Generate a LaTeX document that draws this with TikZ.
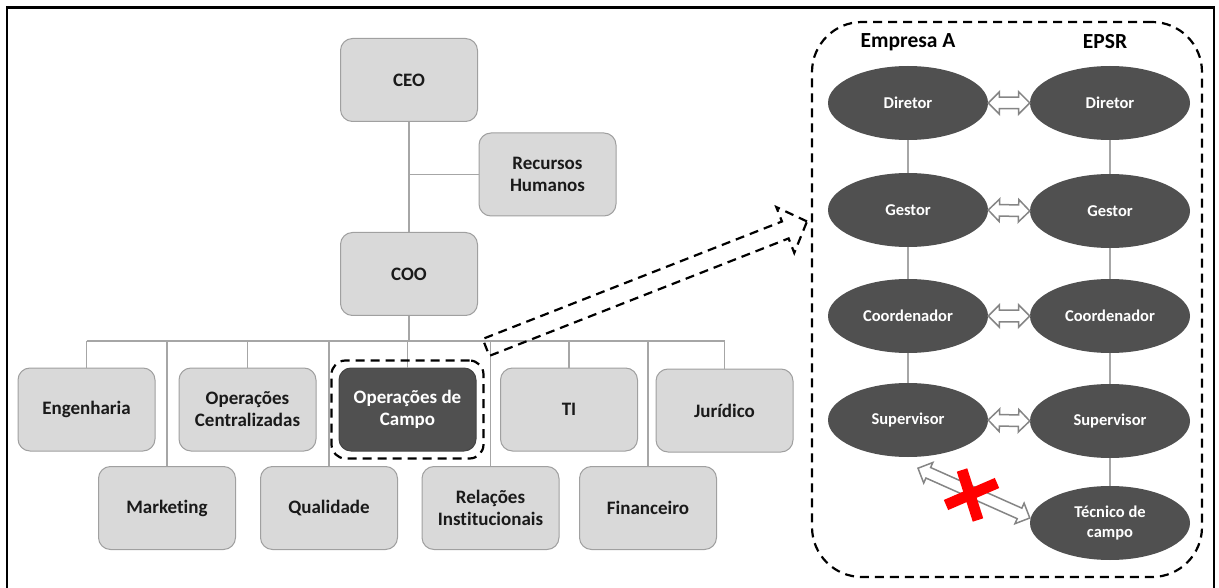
\documentclass[tikz,border=0pt]{standalone}
\usepackage{fontspec}
\setmainfont{Carlito}[Ligatures=NoCommon]
\usetikzlibrary{shapes.geometric,shapes.arrows,calc,fit}
\definecolor{boxfill}{HTML}{D9D9D9}
\definecolor{boxline}{HTML}{A0A0A0}
\definecolor{darkfill}{HTML}{505050}
\definecolor{wirecol}{HTML}{A6A6A6}
\definecolor{arrowline}{HTML}{858585}
\definecolor{textcol}{HTML}{1A1A1A}
\definecolor{crossred}{HTML}{FF0000}

\begin{document}
\begin{tikzpicture}[x=1pt,y=-1pt,
  orgbox/.style={draw=boxline, line width=1pt, fill=boxfill, rounded corners=12pt,
    minimum width=137pt, minimum height=83pt, align=center, inner sep=2pt,
    text=textcol, font=\fontsize{19}{22}\selectfont\bfseries},
  darkbox/.style={orgbox, fill=darkfill, draw=darkfill!85!black, text=white},
  role/.style={ellipse, fill=darkfill, minimum width=160pt, minimum height=74pt,
    inner sep=0pt, align=center, text=white,
    font=\fontsize{16.5}{20}\selectfont\bfseries},
  header/.style={text=black, font=\fontsize{21.5}{24}\selectfont\bfseries},
  wire/.style={draw=wirecol, line width=1.2pt},
  bolddash/.style={draw=black, line width=2.2pt, dash pattern=on 9pt off 6pt},
  hollow/.style={double arrow, draw=arrowline, fill=white, line width=1.5pt,
    inner xsep=0pt, inner ysep=5pt, double arrow head extend=5.5pt,
    double arrow tip angle=90},
  bigarrow/.style={single arrow, bolddash, inner xsep=0pt, inner ysep=8pt,
    single arrow head extend=15.5pt, single arrow tip angle=93}
]
\useasboundingbox (0,0) rectangle (1219,588);

% outer frame
\draw[line width=2.5pt] (7,600) -- (7,7.5) -- (1214,7.5) -- (1214,600);

% ---------- organisation chart ----------
\node[orgbox] (ceo) at (409,80) {CEO};
\node[orgbox] (rh)  at (547.5,174.5) {Recursos\\Humanos};
\node[orgbox] (coo) at (409,274) {COO};

\node[orgbox]  (eng) at (86.5,409.5)  {Engenharia};
\node[orgbox]  (opc) at (247.5,409.5) {Operações\\Centralizadas};
\node[darkbox] (opf) at (407.5,409.5) {Operações de\\Campo};
\node[orgbox]  (ti)  at (569,409.5)   {TI};
\node[orgbox]  (jur) at (724.5,410.5) {Jurídico};

\node[orgbox] (mkt)  at (167,508)   {Marketing};
\node[orgbox] (qual) at (329,508)   {Qualidade};
\node[orgbox] (rel)  at (490.5,508) {Relações\\Institucionais};
\node[orgbox] (fin)  at (648,508)   {Financeiro};

\coordinate (bus) at (409,341);

% connectors of the chart
\draw[wire] (ceo.south) -- (coo.north);
\draw[wire] (rh.west) -- (rh.west -| ceo.south);
\draw[wire] (coo.south) -- (coo.south |- bus);
\draw[wire] (eng.north |- bus) -- (jur.north |- bus);
\foreach \c in {eng,opc,opf,ti,jur,mkt,qual,rel,fin}
  \draw[wire] (\c.north |- bus) -- (\c.north);

% highlight around the field operations box
\node[fit=(opf), bolddash, rounded corners=14pt, inner sep=7pt] (opfzone) {};

% ---------- detail panel ----------
\node[bolddash, rounded corners=50pt, minimum width=390pt, minimum height=555pt]
  (panel) at (1007,299.5) {};

\node[header] (hA) at (908,42)  {Empresa A};
\node[header] (hB) at (1105,42) {EPSR};

\node[role] (a1) at (908,103) {Diretor};
\node[role] (a2) at (908,210) {Gestor};
\node[role] (a3) at (908,316) {Coordenador};
\node[role] (a4) at (908,420) {Supervisor};

\node[role] (b1) at (1110,103) {Diretor};
\node[role] (b2) at (1110,211) {Gestor};
\node[role] (b3) at (1110,316) {Coordenador};
\node[role] (b4) at (1110,421) {Supervisor};
\node[role] (b5) at (1110,523) {Técnico de\\campo};

\draw[wire] (a1.south) -- (a2.north);
\draw[wire] (a2.south) -- (a3.north);
\draw[wire] (a3.south) -- (a4.north);
\draw[wire] (b1.south) -- (b2.north);
\draw[wire] (b2.south) -- (b3.north);
\draw[wire] (b3.south) -- (b4.north);
\draw[wire] (b4.south) -- (b5.north);

% hollow two-way arrows between the two companies
\foreach \l/\r in {a1/b1,a2/b2,a3/b3,a4/b4}
  \path let \p1=($(\r.west)-(\l.east)$), \n1={veclen(\x1,\y1)},
            \n2={atan2(\y1,\x1)} in
    node[hollow, minimum height=\n1, rotate=\n2] at ($(\l.east)!0.5!(\r.west)$) {};

% blocked link between supervisor and field technician
\coordinate (s1) at ($(a4.south)+(10,11)$);
\coordinate (s2) at ($(b5.west)+(0,-5)$);
\path let \p1=($(s2)-(s1)$), \n1={veclen(\x1,\y1)}, \n2={atan2(\y1,\x1)} in
  node[hollow, minimum height=\n1, rotate=\n2] (blocked) at ($(s1)!0.5!(s2)$) {};

\coordinate (nox) at (971,494);
\draw[crossred, line width=11pt] ($(nox)+(-25,11)$) -- ($(nox)+(26,-11)$);
\draw[crossred, line width=11pt] ($(nox)+(-9,-24)$) -- ($(nox)+(7,26)$);

% dashed block arrow from the highlighted box to the panel
\coordinate (tail) at (482,349);
\coordinate (tip)  at (803,223);
\path let \p1=($(tip)-(tail)$), \n1={veclen(\x1,\y1)}, \n2={atan2(\y1,\x1)} in
  node[bigarrow, minimum height=\n1, rotate=\n2] (zoomarrow) at ($(tail)!0.5!(tip)$) {};
\end{tikzpicture}
\end{document}
